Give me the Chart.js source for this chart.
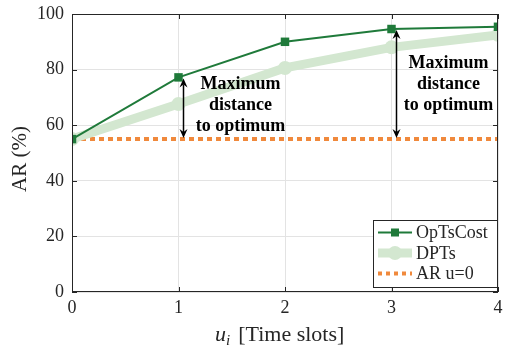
<!DOCTYPE html>
<html><head><meta charset="utf-8">
<script src="https://cdn.jsdelivr.net/npm/chart.js@4"></script>
<style>html,body{margin:0;padding:0;background:#fff}#wrap{width:505px;height:351px}</style>
</head><body><div id="wrap"><canvas id="c" width="505" height="351"></canvas></div>
<script>
const xValues = [0, 1, 2, 3, 4];
const opTsCost = [55, 77.2, 90, 94.6, 95.4];
const dpts = [55, 67.6, 80.6, 88, 92.5];
const arU0 = [55, 55, 55, 55, 55];
const xTicks = [0, 1, 2, 3, 4];
const yTicks = [0, 20, 40, 60, 80, 100];
const annotations = [
  {x: 1, lines: ['Maximum', 'distance', 'to optimum']},
  {x: 3, lines: ['Maximum', 'distance', 'to optimum']}
];
const seriesNames = ['OpTsCost', 'DPTs', 'AR u=0'];

const GREEN = '#1f7a3a', LIGHT = '#d3e7d0', ORANGE = '#f0893c';
const SERIF = '"Liberation Serif","DejaVu Serif",serif';

const pts = arr => arr.map((v, i) => ({x: xValues[i], y: v}));

const overlay = {
  id: 'overlay',
  afterDraw(chart) {
    const ctx = chart.ctx, a = chart.chartArea, xs = chart.scales.x, ys = chart.scales.y;
    ctx.save();
    ctx.strokeStyle = '#262626'; ctx.lineWidth = 1;
    ctx.strokeRect(a.left + 0.5, a.top + 0.5, a.right - a.left - 1, a.bottom - a.top - 1);
    ctx.beginPath();
    xTicks.forEach(t => { const px = Math.round(xs.getPixelForValue(t)) + 0.5;
      ctx.moveTo(px, a.bottom); ctx.lineTo(px, a.bottom - 5);
      ctx.moveTo(px, a.top); ctx.lineTo(px, a.top + 5); });
    yTicks.forEach(t => { const py = Math.round(ys.getPixelForValue(t)) + 0.5;
      ctx.moveTo(a.left, py); ctx.lineTo(a.left + 5, py);
      ctx.moveTo(a.right, py); ctx.lineTo(a.right - 5, py); });
    ctx.stroke();
    annotations.forEach(an => {
      const i = xValues.indexOf(an.x);
      const px = xs.getPixelForValue(an.x) + 5;
      const y1 = ys.getPixelForValue(opTsCost[i]) + 1;
      const y2 = ys.getPixelForValue(arU0[i]) - 1;
      ctx.strokeStyle = '#000'; ctx.fillStyle = '#000'; ctx.lineWidth = 1.5;
      ctx.beginPath(); ctx.moveTo(px, y1 + 6); ctx.lineTo(px, y2 - 6); ctx.stroke();
      ctx.beginPath(); ctx.moveTo(px, y1); ctx.lineTo(px - 4, y1 + 9); ctx.lineTo(px, y1 + 6); ctx.lineTo(px + 4, y1 + 9); ctx.closePath(); ctx.fill();
      ctx.beginPath(); ctx.moveTo(px, y2); ctx.lineTo(px - 4, y2 - 9); ctx.lineTo(px, y2 - 6); ctx.lineTo(px + 4, y2 - 9); ctx.closePath(); ctx.fill();
      ctx.font = 'bold 18px ' + SERIF; ctx.textAlign = 'center'; ctx.textBaseline = 'middle';
      const cx = px + (an.x === 1 ? 57 : 52);
      const top = an.x === 1 ? 84 : 63;
      an.lines.forEach((l, k) => ctx.fillText(l, cx, top + k * 21));
    });
    const lx = 373, ly = 220, lw = 124, lh = 67;
    ctx.fillStyle = '#fff'; ctx.fillRect(lx, ly, lw, lh);
    ctx.strokeStyle = '#262626'; ctx.lineWidth = 1; ctx.strokeRect(lx + 0.5, ly + 0.5, lw, lh);
    const rows = [232.5, 253, 273.5];
    ctx.strokeStyle = GREEN; ctx.lineWidth = 2;
    ctx.beginPath(); ctx.moveTo(378, rows[0]); ctx.lineTo(412, rows[0]); ctx.stroke();
    ctx.fillStyle = GREEN; ctx.fillRect(391, rows[0] - 4, 8, 8);
    ctx.strokeStyle = LIGHT; ctx.lineWidth = 9;
    ctx.beginPath(); ctx.moveTo(378, rows[1]); ctx.lineTo(412, rows[1]); ctx.stroke();
    ctx.fillStyle = LIGHT; ctx.beginPath(); ctx.arc(395, rows[1], 7, 0, Math.PI * 2); ctx.fill();
    ctx.strokeStyle = ORANGE; ctx.lineWidth = 4; ctx.setLineDash([4, 4]);
    ctx.beginPath(); ctx.moveTo(378, rows[2]); ctx.lineTo(412, rows[2]); ctx.stroke();
    ctx.setLineDash([]);
    ctx.fillStyle = '#262626'; ctx.font = '18px ' + SERIF; ctx.textAlign = 'left'; ctx.textBaseline = 'middle';
    seriesNames.forEach((n, k) => ctx.fillText(n, 416, rows[k] + 1));
    ctx.fillStyle = '#262626';
    ctx.save(); ctx.translate(20, 159); ctx.rotate(-Math.PI / 2);
    ctx.font = '21px ' + SERIF; ctx.textAlign = 'center'; ctx.textBaseline = 'middle';
    ctx.fillText('AR (%)', 0, 0); ctx.restore();
    ctx.textBaseline = 'alphabetic'; ctx.textAlign = 'left';
    ctx.font = 'italic 22px ' + SERIF; const wU = ctx.measureText('u').width;
    ctx.font = 'italic 15px ' + SERIF; const wI = ctx.measureText('i').width;
    const gap = 8;
    let sx = 215;
    const by = 341;
    ctx.font = 'italic 22px ' + SERIF; ctx.fillText('u', sx, by); sx += wU;
    ctx.font = 'italic 15px ' + SERIF; ctx.fillText('i', sx, by + 4); sx += wI + gap;
    ctx.font = '22px ' + SERIF; ctx.fillText('[Time slots]', sx, by);
    ctx.restore();
  }
};

new Chart(document.getElementById('c'), {
  type: 'line',
  data: {
    datasets: [
      {label: seriesNames[2], data: pts(arU0), borderColor: ORANGE, borderWidth: 4, borderDash: [5, 4], pointRadius: 0, order: 3},
      {label: seriesNames[1], data: pts(dpts), borderColor: LIGHT, borderWidth: 9, pointRadius: 7, pointStyle: 'circle', pointBackgroundColor: LIGHT, pointBorderWidth: 0, order: 2},
      {label: seriesNames[0], data: pts(opTsCost), borderColor: GREEN, borderWidth: 2, pointRadius: 6, pointStyle: 'rect', pointBackgroundColor: GREEN, pointBorderWidth: 0, order: 1}
    ]
  },
  options: {
    responsive: false, animation: false, devicePixelRatio: 1,
    layout: {padding: {top: 14, right: 4, left: 0, bottom: 0}},
    plugins: {legend: {display: false}, tooltip: {enabled: false}},
    elements: {line: {tension: 0}},
    scales: {
      x: {type: 'linear', min: 0, max: 4,
        afterBuildTicks: s => { s.ticks = xTicks.map(v => ({value: v})); },
        afterFit: s => { s.height = 59; s.paddingLeft = 0; s.paddingRight = 0; },
        grid: {color: '#e3e3e3', drawTicks: false},
        border: {display: false},
        ticks: {color: '#262626', font: {family: SERIF, size: 18}, padding: 5, maxRotation: 0}},
      y: {min: 0, max: 100,
        afterBuildTicks: s => { s.ticks = yTicks.map(v => ({value: v})); },
        afterFit: s => { s.width = 72; s.paddingTop = 0; s.paddingBottom = 0; },
        grid: {color: '#e3e3e3', drawTicks: false},
        border: {display: false},
        ticks: {color: '#262626', font: {family: SERIF, size: 18}, padding: 8}}
    }
  },
  plugins: [overlay]
});
</script></body></html>
